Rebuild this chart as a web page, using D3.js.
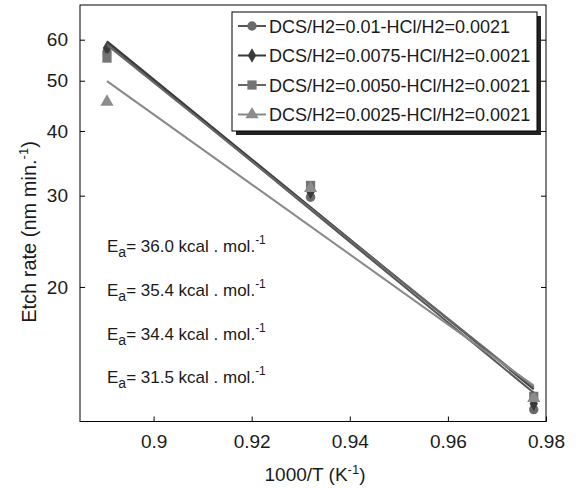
<!DOCTYPE html>
<html><head><meta charset="utf-8">
<script src="https://cdn.jsdelivr.net/npm/d3@7"></script>
<style>body{margin:0;background:#fff}svg{font-family:Arial,"Liberation Sans",sans-serif;display:block}</style>
</head><body><svg width="580" height="488"></svg>
<script>
// ---- data ----
const xValues = [0.8905, 0.9320, 0.9775];           // 1000/T (K^-1)
const seriesNames = [
  "DCS/H2=0.01-HCl/H2=0.0021",
  "DCS/H2=0.0075-HCl/H2=0.0021",
  "DCS/H2=0.0050-HCl/H2=0.0021",
  "DCS/H2=0.0025-HCl/H2=0.0021"
];
const rate001  = [56.8, 29.8, 11.6];
const rate0075 = [57.8, 30.5, 11.9];
const rate0050 = [55.3, 31.4, 12.3];
const rate0025 = [45.5, 31.0, 12.2];
// exponential trendline values at first and last temperature
const trendStart = [59.2, 59.6, 58.6, 49.9];
const trendEnd   = [12.5, 12.7, 12.8, 12.9];
const xTicks = [0.9, 0.92, 0.94, 0.96, 0.98];
const yTicks = [20, 30, 40, 50, 60];
const eaValues = ["36.0", "35.4", "34.4", "31.5"];

// ---- styles ----
const seriesData = [rate001, rate0075, rate0050, rate0025];
const shapes = [d3.symbolCircle, d3.symbolDiamond, d3.symbolSquare, d3.symbolTriangle];
const sizes = [70, 60, 85, 75];
const markerColors = ["#6a6a6a", "#3a3a3a", "#737373", "#8c8c8c"];
const lineColors = ["#555555", "#3a3a3a", "#666666", "#888888"];

const svg = d3.select("svg");
const x = d3.scaleLinear().domain([0.885, 0.98]).range([80, 546]);
const y = d3.scaleLog().domain([11, 70]).range([421.5, 5]);

// frame
svg.append("rect").attr("x", 80).attr("y", 5).attr("width", 466).attr("height", 416.5)
  .attr("fill", "none").attr("stroke", "#000").attr("stroke-width", 1);

const fs = "19px";
const ax = svg.append("g").attr("transform", "translate(80,0)")
  .call(d3.axisLeft(y).tickValues(yTicks).tickSize(-5).tickPadding(12).tickFormat(d3.format("d")));
const bx = svg.append("g").attr("transform", "translate(0,421.5)")
  .call(d3.axisBottom(x).tickValues(xTicks).tickSize(-5).tickPadding(13).tickFormat(d => String(d)));
const rx = svg.append("g").attr("transform", "translate(546,0)")
  .call(d3.axisRight(y).tickValues(yTicks).tickSize(-5).tickFormat(""));
[ax, bx, rx].forEach(g => {
  g.select(".domain").remove();
  g.selectAll("line").attr("stroke", "#000");
  g.selectAll("text").attr("font-size", fs).attr("fill", "#1a1a1a").attr("font-family", "Arial, 'Liberation Sans', sans-serif");
});

// axis titles
svg.append("text").attr("transform", "translate(36,232) rotate(-90)").attr("text-anchor", "middle")
  .attr("font-size", "20px").attr("fill", "#1a1a1a")
  .html('Etch rate (nm min.<tspan dy="-8" font-size="13px">-1</tspan><tspan dy="8">)</tspan>');
svg.append("text").attr("x", 315).attr("y", 481).attr("text-anchor", "middle")
  .attr("font-size", "19px").attr("fill", "#1a1a1a")
  .html('1000/T (K<tspan dy="-7" font-size="13px">-1</tspan><tspan dy="7">)</tspan>');

const x0 = d3.min(xValues), x1 = d3.max(xValues);

// markers
seriesData.forEach((vals, i) => {
  svg.append("g").selectAll("path").data(vals).join("path")
    .attr("d", d3.symbol().type(shapes[i]).size(sizes[i]))
    .attr("transform", (d, j) => `translate(${x(xValues[j])},${y(d)})`)
    .attr("fill", markerColors[i]);
});
// trendlines
seriesData.forEach((vals, i) => {
  svg.append("line").attr("x1", x(x0)).attr("y1", y(trendStart[i])).attr("x2", x(x1)).attr("y2", y(trendEnd[i]))
    .attr("stroke", lineColors[i]).attr("stroke-width", 2);
});

// Ea annotations
const eaY = [252, 296, 340, 383];
eaValues.forEach((v, i) => {
  svg.append("text").attr("x", 107).attr("y", eaY[i]).attr("font-size", "17px").attr("fill", "#1a1a1a")
    .html(`E<tspan dy="5" font-size="14px">a</tspan><tspan dy="-5">= ${v} kcal . mol.</tspan><tspan dy="-8" font-size="12px">-1</tspan>`);
});

// legend
const lg = svg.append("g");
lg.append("rect").attr("x", 236).attr("y", 16).attr("width", 305).attr("height", 119).attr("fill", "#222");
lg.append("rect").attr("x", 232).attr("y", 12).attr("width", 305).attr("height", 119)
  .attr("fill", "#fff").attr("stroke", "#000").attr("stroke-width", 1);
seriesNames.forEach((name, i) => {
  const cy = 26 + i*29.5;
  lg.append("line").attr("x1", 238).attr("x2", 266).attr("y1", cy).attr("y2", cy)
    .attr("stroke", lineColors[i]).attr("stroke-width", 2);
  lg.append("path").attr("d", d3.symbol().type(shapes[i]).size(sizes[i])())
    .attr("transform", `translate(252,${cy})`).attr("fill", markerColors[i]);
  lg.append("text").attr("x", 269).attr("y", cy + 6.5).attr("font-size", "18px").attr("fill", "#1a1a1a").text(name);
});
</script></body></html>
